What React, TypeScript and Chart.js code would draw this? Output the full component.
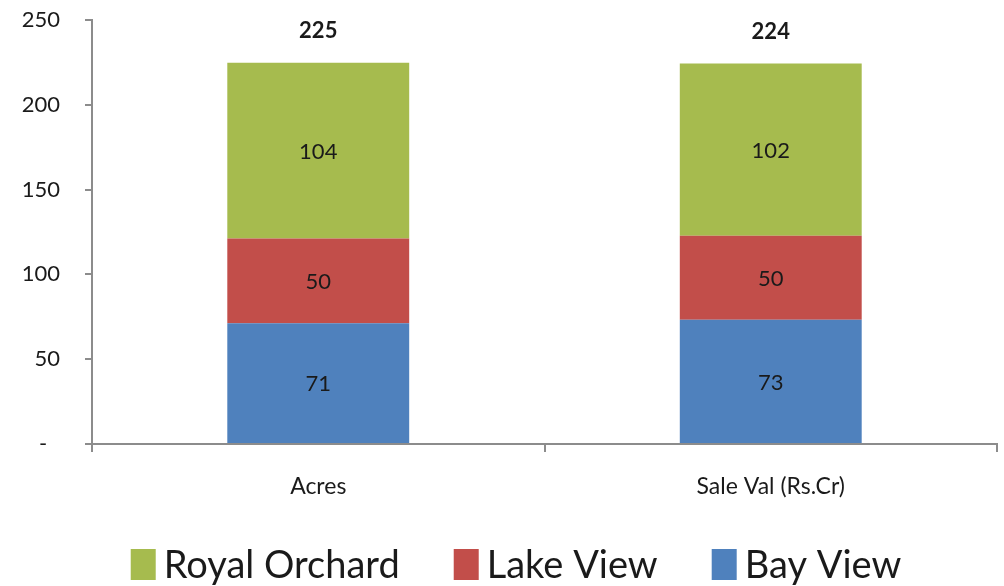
import React, { useEffect, useRef } from 'react';
import { Chart, registerables } from 'chart.js';

Chart.register(...registerables);

const categories = ['Acres', 'Sale Val (Rs.Cr)'];
const bayView = [71.2, 73.2];
const lakeView = [49.9, 49.6];
const royalOrchard = [103.7, 101.6];
const seriesNames = ['Bay View', 'Lake View', 'Royal Orchard'];
const seriesColors = ['#4F81BD', '#C24E4A', '#A6BB4E'];
const yMin = 0;
const yMax = 250;
const yStep = 50;
const zeroTickLabel = '-\u2007';

const FONT = 'Lato, "Open Sans", sans-serif';
const AXIS = '#8c8c8c';
const TEXT = '#1a1a1a';

const labelsPlugin = {
  id: 'segLabels',
  afterDatasetsDraw(chart: any) {
    const ctx = chart.ctx;
    ctx.save();
    ctx.fillStyle = TEXT;
    ctx.textAlign = 'center';
    ctx.textBaseline = 'middle';
    ctx.font = `22px ${FONT}`;
    chart.data.datasets.forEach((ds: any, di: number) => {
      const meta = chart.getDatasetMeta(di);
      meta.data.forEach((bar: any, i: number) => {
        const v = ds.data[i];
        ctx.fillText(String(Math.round(v)), bar.x, (bar.y + bar.base) / 2 + 1);
      });
    });
    // totals
    ctx.font = `bold 22px ${FONT}`;
    const last = chart.getDatasetMeta(chart.data.datasets.length - 1);
    last.data.forEach((bar: any, i: number) => {
      let total = 0;
      chart.data.datasets.forEach((ds: any) => (total += ds.data[i]));
      ctx.fillText(String(Math.round(total)), bar.x, bar.y - 32);
    });
    ctx.restore();
  },
};

const legendPlugin = {
  id: 'customLegend',
  afterDraw(chart: any) {
    const ctx = chart.ctx;
    ctx.save();
    ctx.font = `38px ${FONT}`;
    ctx.textBaseline = 'alphabetic';
    ctx.textAlign = 'left';
    const items = chart.data.datasets
      .map((ds: any) => ({ text: ds.label, color: ds.backgroundColor }))
      .reverse();
    const boxW = 25;
    const boxH = 31;
    const gap = 8;
    const spacing = 54;
    const widths = items.map((it: any) => boxW + gap + ctx.measureText(it.text).width);
    const total = widths.reduce((a: number, b: number) => a + b, 0) + spacing * (items.length - 1);
    let x = chart.width / 2 + 14 - total / 2;
    const boxTop = 549;
    const baseline = 578;
    items.forEach((it: any, i: number) => {
      ctx.fillStyle = it.color;
      ctx.fillRect(x, boxTop, boxW, boxH);
      ctx.fillStyle = TEXT;
      ctx.fillText(it.text, x + boxW + gap, baseline);
      x += widths[i] + spacing;
    });
    ctx.restore();
  },
};

export default function App() {
  const ref = useRef<HTMLCanvasElement | null>(null);

  useEffect(() => {
    if (!ref.current) return;
    const seriesValues = [bayView, lakeView, royalOrchard];
    const chart = new Chart(ref.current, {
      type: 'bar',
      data: {
        labels: categories,
        datasets: seriesNames.map((name, i) => ({
          label: name,
          data: seriesValues[i],
          backgroundColor: seriesColors[i],
          borderWidth: 0,
          barPercentage: 0.402,
          categoryPercentage: 1,
        })),
      },
      options: {
        animation: false,
        responsive: true,
        maintainAspectRatio: false,
        layout: { padding: { top: 20, right: 7, bottom: 0, left: 0 } },
        plugins: {
          legend: { display: false },
          tooltip: { enabled: false },
        },
        scales: {
          x: {
            stacked: true,
            grid: {
              display: true,
              drawOnChartArea: false,
              drawTicks: true,
              tickLength: 8,
              color: AXIS,
              lineWidth: 2,
              offset: true,
            },
            border: { display: true, color: AXIS, width: 2 },
            ticks: {
              color: TEXT,
              font: { family: FONT, size: 23 },
              padding: 21,
              maxRotation: 0,
            },
            afterFit(scale: any) {
              scale.height = 142;
            },
          },
          y: {
            stacked: true,
            min: yMin,
            max: yMax,
            grid: {
              display: true,
              drawOnChartArea: false,
              drawTicks: true,
              tickLength: 7,
              color: AXIS,
              lineWidth: 2,
            },
            border: { display: true, color: AXIS, width: 2 },
            ticks: {
              stepSize: yStep,
              color: TEXT,
              font: { family: FONT, size: 22 },
              padding: 25,
              callback: (v: any) => (Number(v) === 0 ? zeroTickLabel : String(v)),
            },
            afterFit(scale: any) {
              scale.width = 92;
              scale.paddingTop = 0;
              scale.paddingBottom = 0;
            },
          },
        },
      },
      plugins: [labelsPlugin, legendPlugin],
    });
    return () => chart.destroy();
  }, []);

  return (
    <div style={{ position: 'fixed', left: 0, top: 0, width: 1004, height: 586, background: '#fff' }}>
      <canvas ref={ref} />
    </div>
  );
}
